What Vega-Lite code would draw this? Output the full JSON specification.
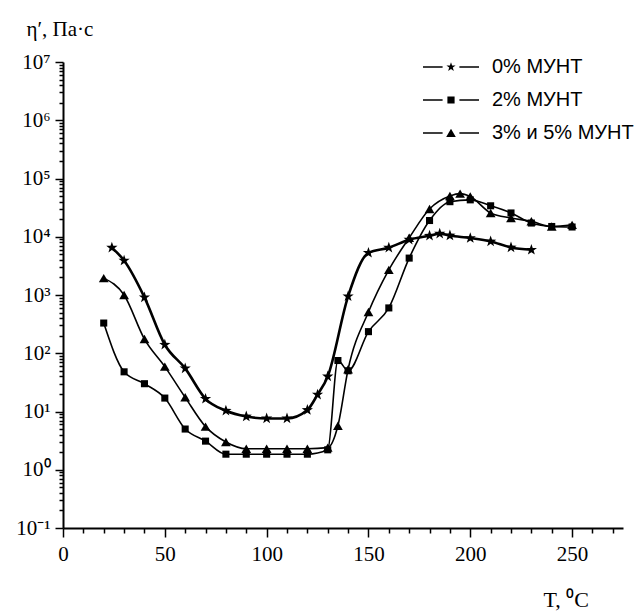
{
  "$schema": "https://vega.github.io/schema/vega-lite/v6.json",
  "width": 560,
  "height": 466,
  "autosize": "none",
  "padding": {"left": 63, "top": 62, "right": 20, "bottom": 88},
  "background": "white",
  "config": {
    "view": {"stroke": null},
    "axis": {"grid": false, "domainColor": "black", "tickColor": "black", "labelColor": "black", "titleColor": "black", "domainWidth": 2, "tickWidth": 1.5}
  },
  "data": {"values": [
    {"series": "0% МУНТ", "T": 24, "eta": 6500},
    {"series": "0% МУНТ", "T": 30, "eta": 3900},
    {"series": "0% МУНТ", "T": 40, "eta": 910},
    {"series": "0% МУНТ", "T": 50, "eta": 140},
    {"series": "0% МУНТ", "T": 60, "eta": 55},
    {"series": "0% МУНТ", "T": 70, "eta": 16.5},
    {"series": "0% МУНТ", "T": 80, "eta": 10.3},
    {"series": "0% МУНТ", "T": 90, "eta": 8.2},
    {"series": "0% МУНТ", "T": 100, "eta": 7.6},
    {"series": "0% МУНТ", "T": 110, "eta": 7.6},
    {"series": "0% МУНТ", "T": 120, "eta": 10.6},
    {"series": "0% МУНТ", "T": 125, "eta": 19.5},
    {"series": "0% МУНТ", "T": 130, "eta": 40},
    {"series": "0% МУНТ", "T": 140, "eta": 950},
    {"series": "0% МУНТ", "T": 150, "eta": 5300},
    {"series": "0% МУНТ", "T": 160, "eta": 6500},
    {"series": "0% МУНТ", "T": 170, "eta": 8900},
    {"series": "0% МУНТ", "T": 180, "eta": 10400},
    {"series": "0% МУНТ", "T": 185, "eta": 11300},
    {"series": "0% МУНТ", "T": 190, "eta": 10500},
    {"series": "0% МУНТ", "T": 200, "eta": 9500},
    {"series": "0% МУНТ", "T": 210, "eta": 8300},
    {"series": "0% МУНТ", "T": 220, "eta": 6550},
    {"series": "0% МУНТ", "T": 230, "eta": 5970},

    {"series": "2% МУНТ", "T": 20, "eta": 330},
    {"series": "2% МУНТ", "T": 30, "eta": 48},
    {"series": "2% МУНТ", "T": 40, "eta": 30},
    {"series": "2% МУНТ", "T": 50, "eta": 17},
    {"series": "2% МУНТ", "T": 60, "eta": 5},
    {"series": "2% МУНТ", "T": 70, "eta": 3.1},
    {"series": "2% МУНТ", "T": 80, "eta": 1.85},
    {"series": "2% МУНТ", "T": 90, "eta": 1.85},
    {"series": "2% МУНТ", "T": 100, "eta": 1.85},
    {"series": "2% МУНТ", "T": 110, "eta": 1.85},
    {"series": "2% МУНТ", "T": 120, "eta": 1.85},
    {"series": "2% МУНТ", "T": 130, "eta": 2.2},
    {"series": "2% МУНТ", "T": 135, "eta": 75},
    {"series": "2% МУНТ", "T": 140, "eta": 50},
    {"series": "2% МУНТ", "T": 150, "eta": 235},
    {"series": "2% МУНТ", "T": 160, "eta": 600},
    {"series": "2% МУНТ", "T": 170, "eta": 4300},
    {"series": "2% МУНТ", "T": 180, "eta": 19000},
    {"series": "2% МУНТ", "T": 190, "eta": 40000},
    {"series": "2% МУНТ", "T": 200, "eta": 43000},
    {"series": "2% МУНТ", "T": 210, "eta": 34000},
    {"series": "2% МУНТ", "T": 220, "eta": 25600},
    {"series": "2% МУНТ", "T": 230, "eta": 17200},
    {"series": "2% МУНТ", "T": 240, "eta": 15000},
    {"series": "2% МУНТ", "T": 250, "eta": 14700},

    {"series": "3% и 5% МУНТ", "T": 20, "eta": 1950},
    {"series": "3% и 5% МУНТ", "T": 30, "eta": 1000},
    {"series": "3% и 5% МУНТ", "T": 40, "eta": 175},
    {"series": "3% и 5% МУНТ", "T": 50, "eta": 59},
    {"series": "3% и 5% МУНТ", "T": 60, "eta": 17.5},
    {"series": "3% и 5% МУНТ", "T": 70, "eta": 5.5},
    {"series": "3% и 5% МУНТ", "T": 80, "eta": 3.0},
    {"series": "3% и 5% МУНТ", "T": 90, "eta": 2.3},
    {"series": "3% и 5% МУНТ", "T": 100, "eta": 2.3},
    {"series": "3% и 5% МУНТ", "T": 110, "eta": 2.3},
    {"series": "3% и 5% МУНТ", "T": 120, "eta": 2.3},
    {"series": "3% и 5% МУНТ", "T": 130, "eta": 2.4},
    {"series": "3% и 5% МУНТ", "T": 135, "eta": 5.7},
    {"series": "3% и 5% МУНТ", "T": 140, "eta": 53},
    {"series": "3% и 5% МУНТ", "T": 150, "eta": 510},
    {"series": "3% и 5% МУНТ", "T": 160, "eta": 2700},
    {"series": "3% и 5% МУНТ", "T": 170, "eta": 9600},
    {"series": "3% и 5% МУНТ", "T": 180, "eta": 30000},
    {"series": "3% и 5% МУНТ", "T": 190, "eta": 50000},
    {"series": "3% и 5% МУНТ", "T": 195, "eta": 55000},
    {"series": "3% и 5% МУНТ", "T": 200, "eta": 49000},
    {"series": "3% и 5% МУНТ", "T": 210, "eta": 25600},
    {"series": "3% и 5% МУНТ", "T": 220, "eta": 21000},
    {"series": "3% и 5% МУНТ", "T": 230, "eta": 18400},
    {"series": "3% и 5% МУНТ", "T": 240, "eta": 15000},
    {"series": "3% и 5% МУНТ", "T": 250, "eta": 16000}
  ]},
  "encoding": {
    "x": {
      "field": "T", "type": "quantitative",
      "scale": {"domain": [0, 275], "nice": false, "zero": false},
      "axis": {
        "values": [0,10,20,30,40,50,60,70,80,90,100,110,120,130,140,150,160,170,180,190,200,210,220,230,240,250,260,270],
        "labelExpr": "datum.value % 50 === 0 ? datum.label : ''",
        "tickSize": {"condition": {"test": "datum.value % 50 === 0", "value": 9}, "value": 5},
        "labelOverlap": false, "labelFlush": false,
        "labelFont": "Liberation Serif, serif", "labelFontSize": 21, "labelPadding": 6,
        "title": "T, ⁰C", "titleFont": "Liberation Serif, serif", "titleFontSize": 22, "titleFontWeight": "normal",
        "titleAnchor": null, "titleX": 480, "titleY": 78, "titleAlign": "left", "titleBaseline": "alphabetic"
      }
    },
    "y": {
      "field": "eta", "type": "quantitative",
      "scale": {"type": "log", "domain": [0.1, 10000000], "nice": false},
      "axis": {
        "values": [0.1,0.2,0.3,0.4,0.5,0.6,0.7,0.8,0.9,1,2,3,4,5,6,7,8,9,10,20,30,40,50,60,70,80,90,100,200,300,400,500,600,700,800,900,1000,2000,3000,4000,5000,6000,7000,8000,9000,10000,20000,30000,40000,50000,60000,70000,80000,90000,100000,200000,300000,400000,500000,600000,700000,800000,900000,1000000,2000000,3000000,4000000,5000000,6000000,7000000,8000000,9000000,10000000],
        "labelExpr": "abs(log(datum.value)/LN10 - round(log(datum.value)/LN10)) < 0.01 ? '10' + ['⁻¹','⁰','¹','²','³','⁴','⁵','⁶','⁷'][round(log(datum.value)/LN10)+1] : ''",
        "tickSize": {"condition": {"test": "abs(log(datum.value)/LN10 - round(log(datum.value)/LN10)) < 0.01", "value": 8}, "value": 4},
        "labelOverlap": false, "labelFlush": false, "labelBound": false,
        "labelFont": "Liberation Serif, serif", "labelFontSize": 21, "labelPadding": 5,
        "title": "η′, Па·с", "titleFont": "Liberation Serif, serif", "titleFontSize": 21, "titleFontWeight": "normal",
        "titleAngle": 0, "titleAnchor": null, "titleX": -37, "titleY": -27, "titleAlign": "left", "titleBaseline": "alphabetic"
      }
    }
  },
  "layer": [
    {
      "mark": {"type": "line", "interpolate": "monotone", "color": "black"},
      "encoding": {
        "detail": {"field": "series"},
        "strokeWidth": {"field": "series", "type": "nominal", "scale": {"type": "ordinal", "domain": ["0% МУНТ", "2% МУНТ", "3% и 5% МУНТ"], "range": [2.6, 1.6, 1.6]}, "legend": null}
      }
    },
    {
      "mark": {"type": "point", "filled": true, "color": "black", "opacity": 1, "strokeWidth": 0},
      "encoding": {
        "shape": {"field": "series", "type": "nominal", "scale": {"domain": ["0% МУНТ", "2% МУНТ", "3% и 5% МУНТ"], "range": ["M0,-1L0.235,-0.324L0.951,-0.309L0.380,0.124L0.588,0.809L0,0.4L-0.588,0.809L-0.380,0.124L-0.951,-0.309L-0.235,-0.324Z", "square", "triangle-up"]}, "legend": null},
        "size": {"field": "series", "type": "nominal", "scale": {"type": "ordinal", "domain": ["0% МУНТ", "2% МУНТ", "3% и 5% МУНТ"], "range": [140, 50, 95]}, "legend": null}
      }
    },
    {
      "transform": [{"filter": "false"}],
      "mark": {"type": "point", "filled": true, "color": "black", "opacity": 1, "strokeWidth": 0, "size": 144},
      "encoding": {
        "shape": {
          "field": "series", "type": "nominal",
          "scale": {"domain": ["0% МУНТ", "2% МУНТ", "3% и 5% МУНТ"], "range": [
            "M-4.67,-0.13H-1.4V0.13H-4.67Z M1.4,-0.13H4.67V0.13H1.4Z M0,-0.8L0.188,-0.259L0.761,-0.247L0.304,0.099L0.470,0.647L0,0.32L-0.470,0.647L-0.304,0.099L-0.761,-0.247L-0.188,-0.259Z",
            "M-4.67,-0.13H-1.4V0.13H-4.67Z M1.4,-0.13H4.67V0.13H1.4Z M-0.6,-0.6H0.6V0.6H-0.6Z",
            "M-4.67,-0.13H-1.4V0.13H-4.67Z M1.4,-0.13H4.67V0.13H1.4Z M0,-0.72L0.8,0.66L-0.8,0.66Z"
          ]},
          "legend": {
            "title": null, "orient": "none", "legendX": 378, "legendY": -5, "padding": 0,
            "symbolSize": 144, "symbolFillColor": "black", "symbolStrokeWidth": 0, "symbolOpacity": 1,
            "labelFont": "Liberation Sans", "labelFontSize": 20, "labelColor": "black", "labelOffset": 31, "rowPadding": 13, "labelLimit": 300
          }
        }
      }
    }
  ],
  "resolve": {"scale": {"shape": "independent"}}
}
